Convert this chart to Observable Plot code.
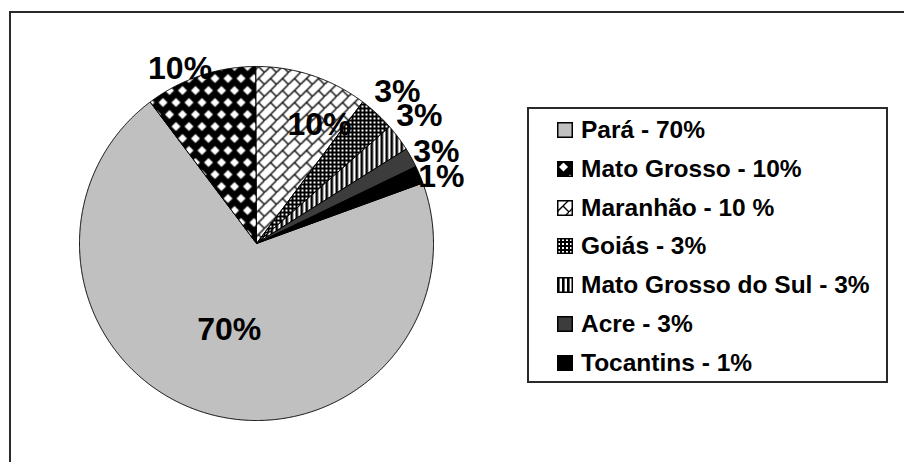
<!DOCTYPE html>
<html>
<head>
<meta charset="utf-8">
<script src="https://cdn.jsdelivr.net/npm/d3@7"></script>
<script src="https://cdn.jsdelivr.net/npm/@observablehq/plot@0.6"></script>
<style>
  html, body { margin: 0; padding: 0; background: #fff; }
  #wrap { position: relative; width: 904px; height: 462px; overflow: hidden; background: #fff;
          font-family: "Liberation Sans", Arial, sans-serif; }
  #frame { position: absolute; left: 9px; top: 11px; width: 1000px; height: 1000px;
           border: 2px solid #2a2a2a; box-sizing: border-box; }
  #chart { position: absolute; left: 0; top: 0; }
  #legend { position: absolute; left: 527px; top: 107px; width: 361px; height: 276px;
            border: 2px solid #2a2a2a; box-sizing: border-box; background: #fff; }
  .row { position: absolute; left: 0; height: 30px; display: flex; align-items: center; }
  .row svg { margin-left: 28px; }
  .row span { margin-left: 8px; font-weight: bold; font-size: 24.5px; color: #000; white-space: nowrap; }
</style>
</head>
<body>
<div id="wrap">
  <div id="frame"></div>
  <svg width="0" height="0" style="position:absolute">
    <defs>
      <pattern id="pMG" patternUnits="userSpaceOnUse" width="13" height="24">
        <rect width="13" height="24" fill="#000"/>
        <polygon points="6.5,1.5 11,6 6.5,10.5 2,6" fill="#fff"/>
        <polygon points="0,13.5 4.5,18 0,22.5 -4.5,18" fill="#fff"/>
        <polygon points="13,13.5 17.5,18 13,22.5 8.5,18" fill="#fff"/>
      </pattern>
      <pattern id="pMar" patternUnits="userSpaceOnUse" width="12" height="12">
        <rect width="12" height="12" fill="#fff"/>
        <path d="M-1,13L13,-1M6,6L12,12" stroke="#000" stroke-width="1.4" fill="none"/>
      </pattern>
      <pattern id="pGo" patternUnits="userSpaceOnUse" width="4" height="4">
        <rect width="4" height="4" fill="#000"/>
        <rect x="1" y="1" width="2" height="2" fill="#fff"/>
      </pattern>
      <pattern id="pMS" patternUnits="userSpaceOnUse" width="5" height="5">
        <rect width="5" height="5" fill="#fff"/>
        <rect width="2.6" height="5" fill="#000"/>
      </pattern>
    </defs>
  </svg>
  <div id="chart"></div>
  <div id="legend"></div>
</div>
<script>
// ---- data ----
const states = ["Pará", "Mato Grosso", "Maranhão", "Goiás", "Mato Grosso do Sul", "Acre", "Tocantins"];
const shares = [70.3, 10.2, 10.3, 3.3, 2.5, 1.8, 1.6];
const sliceLabels = ["70%", "10%", "10%", "3%", "3%", "3%", "1%"];
const legendLabels = ["Pará - 70%", "Mato Grosso - 10%", "Maranhão - 10 %", "Goiás - 3%",
                      "Mato Grosso do Sul - 3%", "Acre - 3%", "Tocantins - 1%"];

// ---- styles / layout ----
const fills = ["#c0c0c0", "url(#pMG)", "url(#pMar)", "url(#pGo)", "url(#pMS)", "#3c3c3c", "#000000"];
const labelRadius = [0.51, 1.08, 0.76, 1.17, 1.17, 1.14, 1.11];
const labelTurnDeg = [1, -5, 9.6, 0, -1.4, 2, 3];
const firstSliceDeg = 70;
const cx = 256, cy = 243, R = 177;

const a0 = firstSliceDeg * Math.PI / 180;
const arcs = d3.pie().sort(null).value(d => d).startAngle(a0).endAngle(a0 + 2 * Math.PI)(shares);

const pts = [];
const labels = [];
arcs.forEach((a, i) => {
  const name = states[i];
  pts.push({name, fill: fills[i], x: 0, y: 0});
  const n = Math.max(4, Math.ceil((a.endAngle - a.startAngle) / 0.005));
  for (let k = 0; k <= n; k++) {
    const t = a.startAngle + (a.endAngle - a.startAngle) * k / n;
    pts.push({name, fill: fills[i], x: Math.sin(t), y: Math.cos(t)});
  }
  pts.push({name, fill: fills[i], x: 0, y: 0});
  const m = (a.startAngle + a.endAngle) / 2 + labelTurnDeg[i] * Math.PI / 180;
  labels.push({text: sliceLabels[i], x: labelRadius[i] * Math.sin(m), y: labelRadius[i] * Math.cos(m)});
});

const chart = Plot.plot({
  width: 904,
  height: 462,
  margin: 0,
  x: {domain: [-1, 1], range: [cx - R, cx + R], axis: null},
  y: {domain: [-1, 1], range: [cy + R, cy - R], axis: null},
  color: {type: "identity"},
  style: {background: "transparent", overflow: "visible"},
  marks: [
    Plot.line(pts, {x: "x", y: "y", z: "name", fill: "fill", stroke: "#000", strokeWidth: 1, strokeLinejoin: "round"}),
    Plot.text(labels, {x: "x", y: "y", text: "text", fill: "#000",
      fontSize: 32, fontWeight: "bold", fontFamily: "Liberation Sans, Arial, sans-serif"})
  ]
});
document.getElementById("chart").appendChild(chart);

// ---- legend ----
const legend = document.getElementById("legend");
states.forEach((s, i) => {
  const row = document.createElement("div");
  row.className = "row";
  row.style.top = (23 - 2 + i * 38.8 - 15) + "px";
  row.innerHTML = `<svg width="16" height="16"><rect x="0.75" y="0.75" width="14.5" height="14.5" fill="${fills[i]}" stroke="#000" stroke-width="1.5"/></svg><span>${legendLabels[i]}</span>`;
  legend.appendChild(row);
});
</script>
</body>
</html>
